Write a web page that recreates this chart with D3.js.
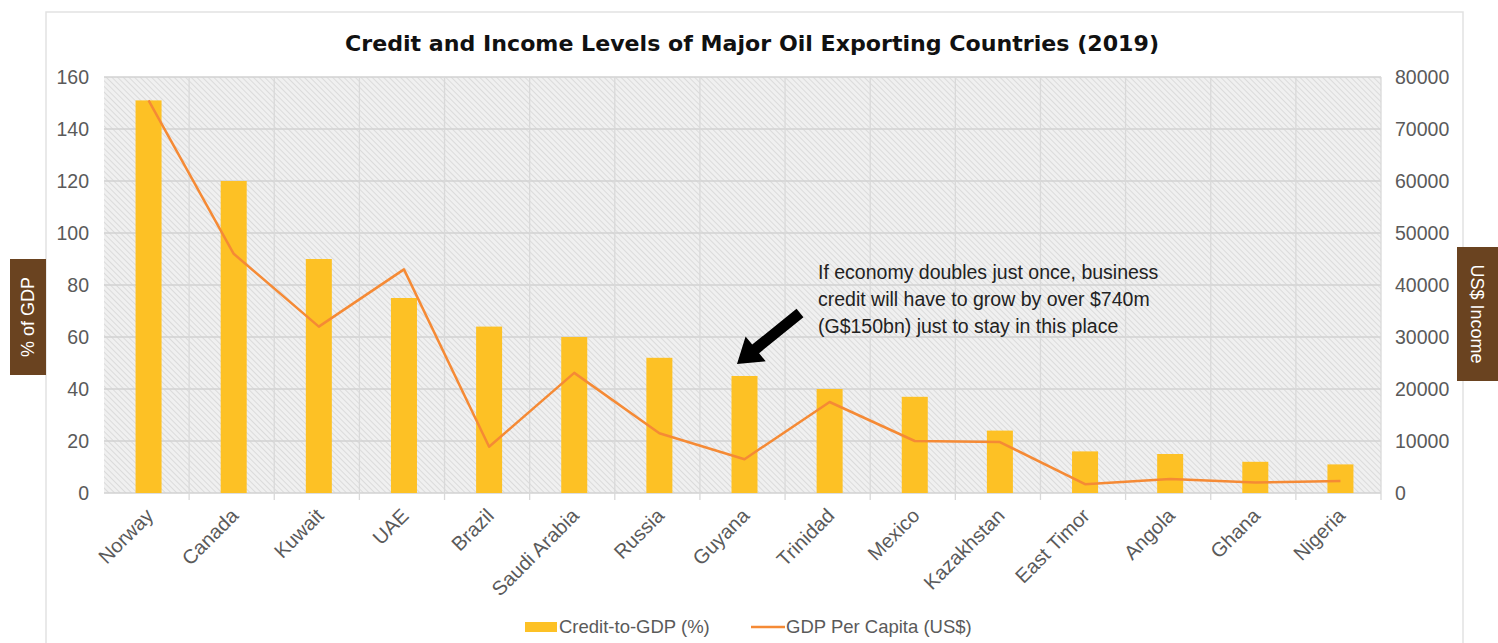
<!DOCTYPE html>
<html><head><meta charset="utf-8">
<script src="https://cdn.jsdelivr.net/npm/d3@7"></script>
<style>
html,body{margin:0;padding:0;background:#fff;}
svg{display:block;font-family:"Liberation Sans",Arial,sans-serif;}
</style></head>
<body><svg id="c" width="1498" height="643"></svg>
<script>
const countries = ["Norway","Canada","Kuwait","UAE","Brazil","Saudi Arabia","Russia","Guyana","Trinidad","Mexico","Kazakhstan","East Timor","Angola","Ghana","Nigeria"];
const creditToGDP = [151,120,90,75,64,60,52,45,40,37,24,16,15,12,11];
const gdpPerCapita = [75500,46000,32000,43000,8900,23100,11500,6500,17500,10000,9800,1700,2700,2000,2300];
const leftTicks = [0,20,40,60,80,100,120,140,160];
const rightTicks = [0,10000,20000,30000,40000,50000,60000,70000,80000];
const title = "Credit and Income Levels of Major Oil Exporting Countries (2019)";
const annotation = ["If economy doubles just once, business","credit will have to grow by over $740m","(G$150bn) just to stay in this place"];

const svg = d3.select("#c");
const L=104, R=1381, T=77, B=493;

// outer frame
svg.append("rect").attr("x",46).attr("y",12).attr("width",1417).attr("height",660)
  .attr("fill","#fff").attr("stroke","#e2e2e2").attr("stroke-width",1.5);

const defs = svg.append("defs");
const pat = defs.append("pattern").attr("id","hatch").attr("patternUnits","userSpaceOnUse")
  .attr("width",4).attr("height",4).attr("patternTransform","rotate(-45)");
pat.append("rect").attr("width",4).attr("height",4).attr("fill","#f0f0f0");
pat.append("line").attr("x1",0).attr("y1",0).attr("x2",0).attr("y2",4).attr("stroke","#d3d3d3").attr("stroke-width",1.4);

const x = d3.scaleBand().domain(countries).range([L,R]).padding(0);
const yL = d3.scaleLinear().domain([0,160]).range([B,T]);
const yR = d3.scaleLinear().domain([0,80000]).range([B,T]);

svg.append("rect").attr("x",L).attr("y",T).attr("width",R-L).attr("height",B-T).attr("fill","url(#hatch)");

// gridlines
svg.append("g").selectAll("line").data(leftTicks).join("line")
  .attr("x1",L).attr("x2",R).attr("y1",d=>yL(d)).attr("y2",d=>yL(d))
  .attr("stroke","#d2d2d2").attr("stroke-width",1.5);
svg.append("g").selectAll("line").data(countries.slice(1).concat(["__end"])).join("line")
  .attr("x1",d=>d==="__end"?R:x(d)).attr("x2",d=>d==="__end"?R:x(d))
  .attr("y1",T).attr("y2",B+7)
  .attr("stroke","#d9d9d9").attr("stroke-width",1.3);

// title
svg.append("text").attr("x",752).attr("y",51).attr("text-anchor","middle")
  .attr("font-size",21.5).attr("font-weight","bold").attr("fill","#111")
  .attr("font-family","'DejaVu Sans',sans-serif")
  .attr("textLength",814).attr("lengthAdjust","spacingAndGlyphs")
  .text(title);

// bars
const bw = 26;
svg.append("g").selectAll("rect").data(countries).join("rect")
  .attr("x",(d)=>x(d)+x.bandwidth()/2-bw/2+2)
  .attr("width",bw)
  .attr("y",(d,i)=>yL(creditToGDP[i]))
  .attr("height",(d,i)=>B-yL(creditToGDP[i]))
  .attr("fill","#FDC125");

// line
const line = d3.line().x((d,i)=>x(countries[i])+x.bandwidth()/2+2).y(d=>yR(d));
svg.append("path").datum(gdpPerCapita).attr("d",line)
  .attr("fill","none").attr("stroke","#F58A35").attr("stroke-width",2.5).attr("stroke-linejoin","round");

// axes
const axL = d3.axisLeft(yL).tickValues(leftTicks).tickSize(0).tickPadding(0);
const gL = svg.append("g").attr("transform",`translate(89,0)`).call(axL);
gL.select(".domain").remove();
gL.selectAll("text").attr("font-size",19.5).attr("fill","#5a5a5a").attr("dy","0.35em")
  .attr("font-family","'Liberation Sans',Arial,sans-serif");

const axR = d3.axisRight(yR).tickValues(rightTicks).tickSize(0).tickPadding(0).tickFormat(d3.format("d"));
const gR = svg.append("g").attr("transform",`translate(1395,0)`).call(axR);
gR.select(".domain").remove();
gR.selectAll("text").attr("font-size",19.5).attr("fill","#5a5a5a").attr("dy","0.35em")
  .attr("font-family","'Liberation Sans',Arial,sans-serif");

const axB = d3.axisBottom(x).tickSize(0).tickPadding(0);
const gB = svg.append("g").attr("transform",`translate(0,${B})`).call(axB);
gB.select(".domain").remove();
gB.selectAll("text").attr("font-size",20).attr("fill","#5a5a5a")
  .attr("text-anchor","end").attr("dy",0)
  .attr("transform","translate(8,24) rotate(-45)")
  .attr("font-family","'Liberation Sans',Arial,sans-serif");

// side labels
svg.append("rect").attr("x",10).attr("y",259).attr("width",36).attr("height",116).attr("fill","#6A4320");
svg.append("text").attr("transform","translate(34,317) rotate(-90)").attr("text-anchor","middle")
  .attr("font-size",18).attr("fill","#fff").text("% of GDP");
svg.append("rect").attr("x",1457).attr("y",247).attr("width",41).attr("height",134).attr("fill","#6A4320");
svg.append("text").attr("transform","translate(1471,314) rotate(90)").attr("text-anchor","middle")
  .attr("font-size",18).attr("fill","#fff").text("US$ Income");

// annotation
svg.append("g").selectAll("text").data(annotation).join("text")
  .attr("x",818).attr("y",(d,i)=>279+i*27).attr("font-size",19.5).attr("fill","#222").text(d=>d);

// arrow
const ax0=800, ay0=313, ax1=737, ay1=364;
const ang = Math.atan2(ay1-ay0, ax1-ax0);
const len = Math.hypot(ax1-ax0, ay1-ay0);
const ag = svg.append("g").attr("transform",`translate(${ax0},${ay0}) rotate(${ang*180/Math.PI})`);
ag.append("path").attr("d",`M0,-5.5 L${len-24},-5.5 L${len-24},-16 L${len},0 L${len-24},16 L${len-24},5.5 L0,5.5 Z`).attr("fill","#000");

// legend
svg.append("rect").attr("x",525).attr("y",622).attr("width",32).attr("height",10).attr("fill","#FDC125");
svg.append("text").attr("x",559).attr("y",633).attr("font-size",18.5).attr("fill","#5a5a5a").text("Credit-to-GDP (%)");
svg.append("line").attr("x1",751).attr("x2",785).attr("y1",627).attr("y2",627).attr("stroke","#F58A35").attr("stroke-width",2.5);
svg.append("text").attr("x",786).attr("y",633).attr("font-size",18.5).attr("fill","#5a5a5a").text("GDP Per Capita (US$)");
</script></body></html>
